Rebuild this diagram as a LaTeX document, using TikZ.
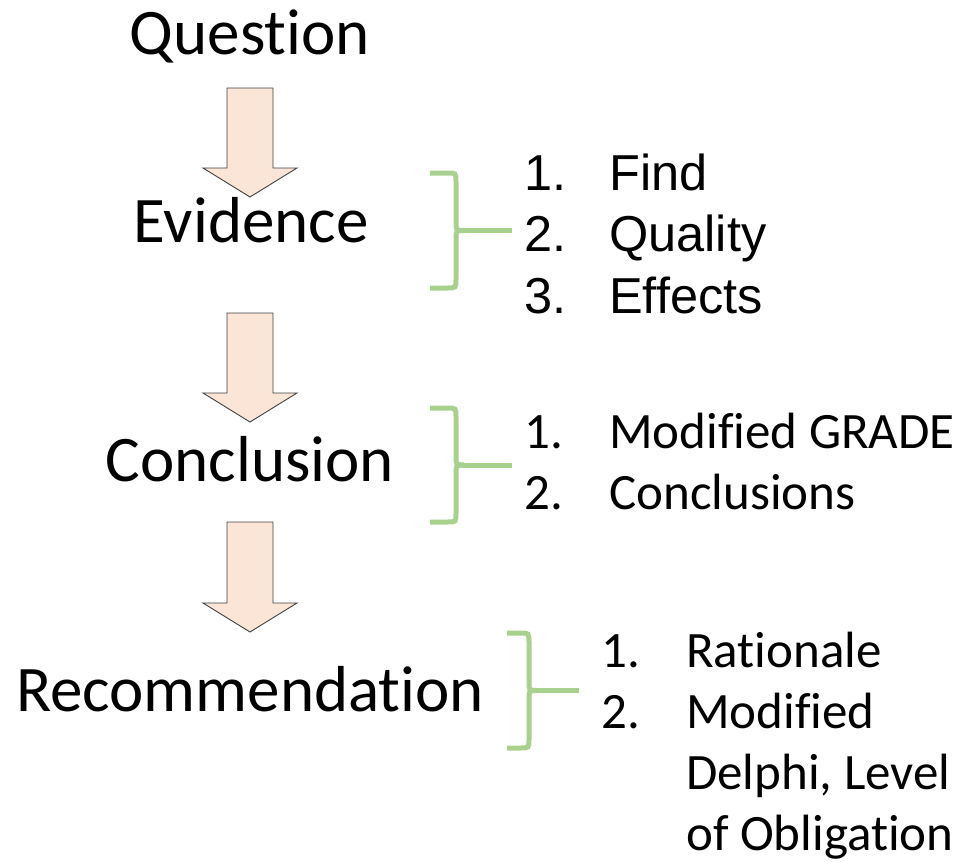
\documentclass[tikz,border=0pt]{standalone}
\usepackage{fontspec}
\setmainfont{Carlito}[Ligatures=NoCommon]
\newfontfamily\arialf{Liberation Sans}
\definecolor{peach}{HTML}{FBE5D6}
\definecolor{bracegreen}{HTML}{A9D18E}
\newcommand\blockarr[3]{%
  \draw[blockarrow] (227,#1) -- (273,#1) -- (273,#2) -- (297,#2) -- (250,#3) -- (203,#2) -- (227,#2) -- cycle;}
\newcommand\greenbrace[5]{% xleft, xvert, ytop, ybottom, xright
  \pgfmathsetmacro\ymid{(#3+#4)/2}%
  \draw[bracestyle] (#1,#3) -- ({#2-9},#3) .. controls (#2,#3) .. (#2,{#3+9}) -- (#2,{\ymid-9}) .. controls (#2,\ymid) .. ({#2+8},\ymid);
  \draw[bracestyle] (#1,#4) -- ({#2-9},#4) .. controls (#2,#4) .. (#2,{#4-9}) -- (#2,{\ymid+9}) .. controls (#2,\ymid) .. ({#2+8},\ymid);
  \draw[bracestyle] ({#2+6},\ymid) -- (#5,\ymid);}
\begin{document}
\begin{tikzpicture}[x=1pt,y=-1pt,
  main/.style={font=\fontsize{65}{65}\selectfont, anchor=base, inner sep=0pt},
  item/.style={font=\fontsize{51}{51}\selectfont, anchor=base west, inner sep=0pt},
  aitem/.style={font=\arialf\fontsize{50.5}{50.5}\selectfont, anchor=base west, inner sep=0pt},
  blockarrow/.style={fill=peach, draw=black!75, line width=0.9pt, line join=miter},
  bracestyle/.style={draw=bracegreen, line width=5pt, line cap=butt}]
\useasboundingbox (0,0) rectangle (962,862);

% main labels
\node[main] (question) at (250,54) {Question};
\node[main] (evidence) at (251,242) {Evidence};
\node[main] (conclusion) at (250,481) {Conclusion};
\node[main] (recommendation) at (250,711) {Recommendation};

% block arrows
\blockarr{88}{168}{197}
\blockarr{313}{393}{422}
\blockarr{522}{603}{632}

% braces
\greenbrace{430}{456}{173}{288}{512}
\greenbrace{430}{456}{408}{522}{512}
\greenbrace{507}{529}{633}{748}{579}

% list 1
\node[aitem] (n11) at (524,190) {1.};
\node[aitem] (t11) at (609,190) {Find};
\node[aitem] (n12) at (524,251) {2.};
\node[aitem] (t12) at (609,251) {Quality};
\node[aitem] (n13) at (524,313) {3.};
\node[aitem] (t13) at (609,313) {Effects};

% list 2
\node[item] (n21) at (524,448) {1.};
\node[item] (t21) at (609,448) {Modified GRADE};
\node[item] (n22) at (524,509) {2.};
\node[item] (t22) at (609,509) {Conclusions};

% list 3
\node[item] (n31) at (601,667) {1.};
\node[item] (t31) at (686,667) {Rationale};
\node[item] (n32) at (601,728) {2.};
\node[item] (t32) at (686,728) {Modified};
\node[item] (t33) at (686,789) {Delphi, Level};
\node[item] (t34) at (686,850) {of Obligation};
\end{tikzpicture}
\end{document}
